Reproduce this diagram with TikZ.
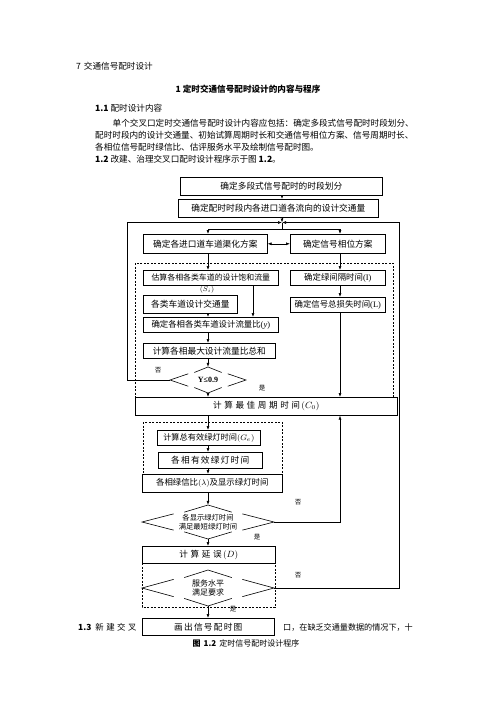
\documentclass[tikz,border=0pt]{standalone}
\usepackage{fontspec}
\setmainfont{Noto Sans CJK SC}
\newfontfamily\cjkwide[LetterSpace=30]{Noto Sans CJK SC}
\newfontfamily\cjkloose[LetterSpace=14]{Noto Sans CJK SC}
\newfontfamily\serifnum{Liberation Serif}
\usetikzlibrary{arrows.meta,calc}
\XeTeXlinebreaklocale "zh"
\XeTeXlinebreakskip=0pt plus 1.5pt
\newcommand{\setsize}[1]{\fontsize{#1pt}{#1pt}\selectfont}
% broken decision outline round a named node: node, half width, half height
\newcommand{\gapdiamond}[3]{%
  \begin{scope}[shift={(#1.center)}]
    \draw [link] (-0.52*#2,-0.48*#3) -- (-#2,0) -- (-0.52*#2,0.48*#3);%
    \draw [link] (0.52*#2,-0.48*#3) -- (#2,0) -- (0.52*#2,0.48*#3);%
    \draw [link] (-0.36*#2,-0.58*#3) -- (0,-#3) -- (0.36*#2,-0.58*#3);%
    \draw [link] (-0.36*#2,0.58*#3) -- (0,#3) -- (0.36*#2,0.58*#3);%
  \end{scope}}
\begin{document}
\begin{tikzpicture}[x=1pt,y=-1pt,
    link/.style={line width=0.6pt},
    arr/.style={line width=0.6pt,-{Latex[length=4pt,width=3pt]}},
    box/.style={draw,line width=0.6pt,anchor=north west,inner sep=0pt,font=\setsize{8.7}},
    dashbox/.style={line width=0.6pt,dash pattern=on 2pt off 1.5pt},
    decide/.style={inner sep=0pt,align=center},
    yesno/.style={inner sep=0pt,font=\setsize{6.5}},
    pagetext/.style={inner sep=0pt,anchor=west,font=\setsize{8.6}}]
                \fill [white] (0,0) rectangle (496,702);%
                \useasboundingbox (0,0) rectangle (496,702);%

                % Page text above the chart
                \node [pagetext] (t_chapter) at (76,66) {7\hspace{3pt}交通信号配时设计};%
                \node [pagetext,anchor=center] (t_title) at (248,89) {\bfseries 1 定时交通信号配时设计的内容与程序};%
                \node [pagetext] (t_sec1) at (95,108) {\textbf{1.1} 配时设计内容};%
                \node [pagetext] (t_par1) at (112.5,123) {\makebox[310pt][s]{单个交叉口定时交通信号配时设计内容应包括：确定多段式信号配时时段划分、}};%
                \node [pagetext] (t_par2) at (95,135.5) {\makebox[327pt][s]{配时时段内的设计交通量、初始试算周期时长和交通信号相位方案、信号周期时长、}};%
                \node [pagetext] (t_par3) at (95,147.5) {各相位信号配时绿信比、估评服务水平及绘制信号配时图。};%
                \node [pagetext] (t_sec2) at (95,159.5) {\textbf{1.2} 改建、治理交叉口配时设计程序示于图 \textbf{1.2}。};%

                % Column and junction points
                \coordinate (colA) at (208,0);%
                \coordinate (colB) at (340,0);%
                \coordinate (colC) at (253,0);%
                \coordinate (colL) at (127,0);%
                \coordinate (colR) at (399,0);%
                \coordinate (jn) at (282,222.5);%
                \coordinate (split) at (282,229);%

                % Drawing the dashed groups
                \draw [dashbox] (135,263) rectangle (393,397);%
                \draw [dashbox] (143,422) rectangle (282,474);%
                \draw [dashbox] (142,563) rectangle (275,607);%

                % Drawing the boxes
                \node [box,minimum width=202pt,minimum height=18pt] (b_period) at (180,177) {确定多段式信号配时的时段划分};%
                \node [box,minimum width=200pt,minimum height=18pt] (b_volume) at (178,199) {确定配时时段内各进口道各流向的设计交通量};%
                \node [box,minimum width=124pt,minimum height=19pt] (b_lane) at (143,234) {确定各进口道车道渠化方案};%
                \node [box,minimum width=95pt,minimum height=19pt] (b_phase) at (290,234) {确定信号相位方案};%
                \node [box,minimum width=135pt,minimum height=15pt,font=\setsize{7.9}] (b_sat) at (143,270) {估算各相各类车道的设计饱和流量};%
                \node [box,minimum width=95pt,minimum height=15pt,font=\setsize{8.4}] (b_inter) at (290,270) {确定绿间隔时间{\serifnum(I)}};%
                \node [box,minimum width=94pt,minimum height=18pt] (b_lanevol) at (143,295) {各类车道设计交通量};%
                \node [box,minimum width=95pt,minimum height=15pt,font=\setsize{8.4}] (b_loss) at (290,297) {确定信号总损失时间{\serifnum(L)}};%
                \node [box,minimum width=135pt,minimum height=15pt,font=\setsize{8.4}] (b_ratio) at (143,317) {确定各相各类车道设计流量比{\serifnum(\textit{y})}};%
                \node [box,minimum width=132pt,minimum height=15pt] (b_sum) at (143,343) {计算各相最大设计流量比总和};%
                \node [box,minimum width=262pt,minimum height=18pt,font=\cjkwide\setsize{8.6}] (b_cycle) at (135,397) {计算最佳周期时间\,$(C_0)$};%
                \node [box,minimum width=103pt,minimum height=15pt,font=\setsize{8.2}] (b_ge) at (157,430) {计算总有效绿灯时间$(G_e)$};%
                \node [box,minimum width=104pt,minimum height=16pt,font=\cjkloose\setsize{8.7}] (b_gi) at (158,452) {各相有效绿灯时间};%
                \node [box,minimum width=140pt,minimum height=18pt,font=\setsize{8.4}] (b_split) at (142,474) {各相绿信比$(\lambda)$及显示绿灯时间};%
                \node [box,minimum width=133pt,minimum height=17pt,font=\cjkwide\setsize{8.6}] (b_delay) at (142,546) {计算延误\,$(D)$};%
                \node [box,minimum width=132pt,minimum height=17pt,font=\cjkloose\setsize{8.7}] (b_draw) at (142,618) {画出信号配时图};%

                % Marking the saturation symbol
                \node [inner sep=0pt,font=\setsize{7}] (s_sat) at (207,290) {$(S_i)$};%

                % Drawing the decisions
                \node [decide,minimum width=76pt,minimum height=26pt,font=\serifnum\bfseries\setsize{8}] (d_y) at (208,380) {Y≤0.9};%
                \gapdiamond{d_y}{38}{13}%
                \node [decide,minimum width=132pt,minimum height=34pt,font=\setsize{7.3}] (d_min) at (208,522) {各显示绿灯时间\\[1.5pt]满足最短绿灯时间};%
                \gapdiamond{d_min}{66}{17}%
                \node [decide,minimum width=132pt,minimum height=36pt,font=\setsize{8}] (d_los) at (208,588) {服务水平\\[1.5pt]满足要求};%
                \gapdiamond{d_los}{66}{18}%

                % Marking yes and no
                \node [yesno] (m_no1) at (158,370) {否};%
                \node [yesno] (m_yes1) at (262,388) {是};%
                \node [yesno] (m_no2) at (298,502) {否};%
                \node [yesno] (m_yes2) at (257,537) {是};%
                \node [yesno] (m_no3) at (298,575) {否};%
                \node [yesno] (m_yes3) at (233,609) {是};%

                % Drawing the main flow
                \draw [arr] (b_period.south -| jn) -- (b_volume.north -| jn);%
                \draw [arr] (b_volume.south -| jn) -- (jn);%
                \draw [link] (jn) -- (split);%
                \draw [arr] (split) -| (b_lane.north -| colA);%
                \draw [arr] (split) -| (b_phase.north -| colB);%
                \draw [line width=0.6pt,{Latex[length=4pt,width=3pt]}-{Latex[length=4pt,width=3pt]}] (b_lane.east) -- (b_phase.west);%
                \draw [arr] (b_lane.south -| colA) -- (b_sat.north -| colA);%
                \draw [arr] (b_phase.south -| colB) -- (b_inter.north -| colB);%
                \draw [arr] (b_inter.south -| colB) -- (b_loss.north -| colB);%
                \draw [arr] (b_loss.south -| colB) -- (b_cycle.north -| colB);%
                \draw [arr] (b_sat.south -| colC) -- (b_ratio.north -| colC);%
                \draw [arr] (b_lanevol.south -| colA) -- (b_ratio.north -| colA);%
                \draw [arr] (b_ratio.south -| colA) -- (b_sum.north -| colA);%
                \draw [arr] (b_sum.south -| colA) -- (d_y.north);%
                \draw [arr] (d_y.south) -- (b_cycle.north -| d_y.south);%
                \draw [arr] (b_cycle.south -| colA) -- (b_ge.north -| colA);%
                \draw [arr] (b_ge.south -| colA) -- (b_gi.north -| colA);%
                \draw [arr] (b_gi.south -| colA) -- (b_split.north -| colA);%
                \draw [arr] (b_split.south -| colA) -- (d_min.north);%
                \draw [arr] (d_min.south) -- (b_delay.north -| d_min.south);%
                \draw [arr] (d_los.south) -- (b_draw.north -| d_los.south);%

                % Drawing the loops back
                \draw [arr] (d_y.west) -| (colL |- jn) -- (jn);%
                \draw [arr] (d_los.east) -| (colR |- jn) -- (jn);%
                \draw [arr] (d_min.east) -| (b_cycle.south -| colB);%

                % Page text below the chart
                \node [pagetext,font=\setsize{8.4}] (t_sec3) at (78,627) {\textbf{1.3}\hspace{4pt}{\cjkwide 新建交叉}};%
                \node [pagetext,font=\setsize{8.1}] (t_cont) at (283,627) {口，在缺乏交通量数据的情况下，十};%
                \node [inner sep=0pt,font=\setsize{8}] (t_caption) at (246,643) {\textbf{图\hspace{3pt}1.2}\hspace{3pt}定时信号配时设计程序};%
\end{tikzpicture}
\end{document}
